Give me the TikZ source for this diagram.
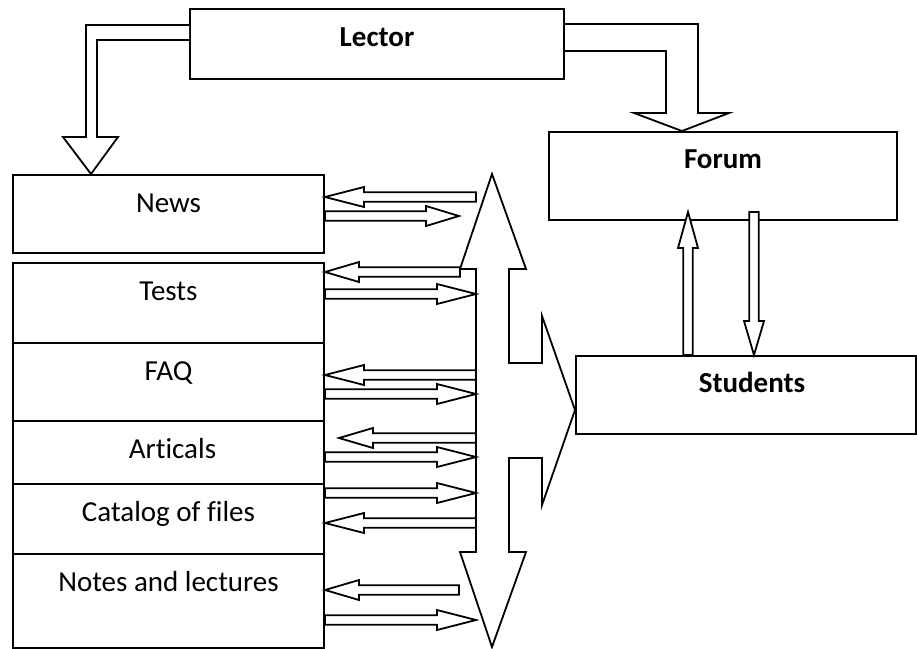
\documentclass[tikz,border=0pt]{standalone}
\usepackage{fontspec}
\setmainfont[Ligatures=NoCommon]{Carlito}
\usetikzlibrary{calc}

\tikzset{
  box/.style={rectangle, draw=black, line width=2pt, inner sep=0pt},
  txt/.style={anchor=base, font=\fontsize{29}{34}\selectfont},
  btxt/.style={txt, font=\fontsize{29}{34}\selectfont\bfseries},
  blockarrow/.style={draw=black, line width=1.8pt, fill=white, line join=miter, miter limit=10}
}

% hollow block arrow: [head length]{tail}{tip}
\newcommand{\blockarrow}[3][39]{%
  \draw[blockarrow] let \p1=#2, \p2=#3,
      \n1={atan2(\y2-\y1,\x2-\x1)}, \n2={veclen(\x2-\x1,\y2-\y1)} in
    [shift={(\p1)}, rotate=\n1]
    (0pt,-4.75pt) -- ({\n2-#1},-4.75pt) -- ({\n2-#1},-10pt) -- (\n2,0pt)
    -- ({\n2-#1},10pt) -- ({\n2-#1},4.75pt) -- (0pt,4.75pt) -- cycle;}

\begin{document}
\begin{tikzpicture}[x=1pt,y=-1pt]
        \useasboundingbox (0,0) rectangle (917,648);

        \node[box, anchor=north west, minimum width=374, minimum height=70] (lector)   at (189,8) {};
        \node[box, anchor=north west, minimum width=348, minimum height=88] (forum)    at (548,131) {};
        \node[box, anchor=north west, minimum width=340, minimum height=78] (students) at (575,355) {};
        \node[box, anchor=north west, minimum width=311, minimum height=78] (news)     at (12,174) {};
        \node[box, anchor=north west, minimum width=311, minimum height=80] (tests)    at (12,262) {};
        \node[box, anchor=north west, minimum width=311, minimum height=78] (faq)      at (12,342) {};
        \node[box, anchor=north west, minimum width=311, minimum height=63] (articals) at (12,420) {};
        \node[box, anchor=north west, minimum width=311, minimum height=70] (catalog)  at (12,483) {};
        \node[box, anchor=north west, minimum width=311, minimum height=94] (notes)    at (12,553) {};

        \node[btxt] (lectorl)   at ($(lector.north)+(0,38)$) {Lector};
        \node[btxt] (foruml)    at ($(forum.north)+(0,37)$) {Forum};
        \node[btxt] (studentsl) at ($(students.north)+(6,37)$) {Students};
        \node[txt] (newsl)     at ($(news.north)+(0,38)$) {News};
        \node[txt] (testsl)    at ($(tests.north)+(0,38)$) {Tests};
        \node[txt] (faql)      at ($(faq.north)+(0,38)$) {FAQ};
        \node[txt] (articalsl) at ($(articals.north)+(4,38)$) {Articals};
        \node[txt] (catalogl)  at ($(catalog.north)+(0,38)$) {Catalog of files};
        \node[txt] (notesl)    at ($(notes.north)+(0,38)$) {Notes and lectures};

        % lector to news and forum
        \draw[blockarrow] (lector.west |- 0,25) -- (86,25) -- (86,137) -- (63,137) -- (news.north -| 91,0)
            -- (118,137) -- (97,137) -- (97,40) -- (lector.west |- 0,40);
        \draw[blockarrow] (lector.east |- 0,24) -- (698,24) -- (698,113) -- (729,113) -- (forum.north -| 682,0)
            -- (634,113) -- (666,113) -- (666,51) -- (lector.east |- 0,51);

        % big arrow up, down and to students
        \draw[blockarrow] (492,174) -- (526,269) -- (509,269) -- (509,363) -- (542,363) -- (542,316)
            -- (students.west |- 0,410) -- (542,505) -- (542,458) -- (509,458) -- (509,552) -- (526,552)
            -- (492,647) -- (460,552) -- (476,552) -- (476,269) -- (460,269) -- cycle;

        \coordinate (stem) at (476,0);

        \blockarrow{(stem |- 0,197)}{(news.east |- 0,197)}
        \blockarrow[33]{(news.east |- 0,216)}{(459,216)}
        \blockarrow[34]{(460,272)}{(tests.east |- 0,272)}
        \blockarrow{(tests.east |- 0,294)}{(stem |- 0,294)}
        \blockarrow{(stem |- 0,375)}{(faq.east |- 0,375)}
        \blockarrow{(faq.east |- 0,394)}{(stem |- 0,394)}
        \blockarrow[34]{(stem |- 0,438)}{(339,438)}
        \blockarrow{(articals.east |- 0,457)}{(stem |- 0,457)}
        \blockarrow{(catalog.east |- 0,493)}{(stem |- 0,493)}
        \blockarrow{(stem |- 0,523)}{(catalog.east |- 0,523)}
        \blockarrow[34]{(459,590)}{(notes.east |- 0,590)}
        \blockarrow{(notes.east |- 0,620)}{(stem |- 0,620)}

        % forum and students
        \blockarrow[36]{(students.north -| 688,0)}{(688,212)}
        \blockarrow[34]{(754,212)}{(students.north -| 754,0)}
\end{tikzpicture}
\end{document}
